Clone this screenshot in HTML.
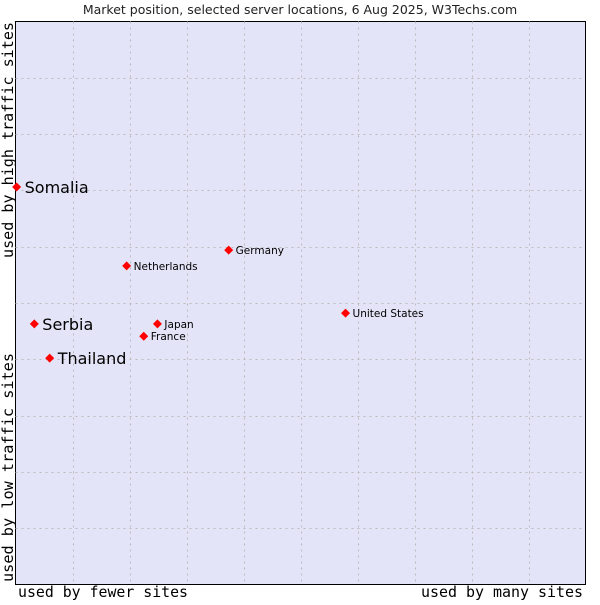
<!DOCTYPE html>
<html><head><meta charset="utf-8"><style>
body{margin:0;background:#fff;width:600px;height:600px;overflow:hidden}
svg text{font-family:"DejaVu Sans","Liberation Sans",sans-serif}
.mono{font-family:"DejaVu Sans Mono","Liberation Mono",monospace}
</style></head><body>
<svg id="chart" width="600" height="600" xmlns="http://www.w3.org/2000/svg">
<text x="300" y="14" font-size="12.5" text-anchor="middle" fill="#222">Market position, selected server locations, 6 Aug 2025, W3Techs.com</text>
<rect x="15.5" y="21.5" width="570" height="563" fill="#e4e4f8" stroke="#000"/>
<g id="grid"></g>
<g id="points"></g>
<text class="mono" x="18" y="597" font-size="15" textLength="170" lengthAdjust="spacingAndGlyphs" fill="#000">used by fewer sites</text>
<text class="mono" x="421" y="597" font-size="15" textLength="162" lengthAdjust="spacingAndGlyphs" fill="#000">used by many sites</text>
<text class="mono" transform="translate(13,258) rotate(-90)" font-size="15.5" textLength="236" lengthAdjust="spacingAndGlyphs" fill="#000">used by high traffic sites</text>
<text class="mono" transform="translate(13,582) rotate(-90)" font-size="15.5" textLength="229" lengthAdjust="spacingAndGlyphs" fill="#000">used by low traffic sites</text>
</svg>
<script>
const names = ["Somalia","Serbia","Thailand","Netherlands","Germany","Japan","France","United States"];
const xValues = [0.2,3.3,6.0,19.5,37.4,24.9,22.5,57.9];
const yValues = [70.6,46.3,40.2,56.6,59.4,46.3,44.1,48.2];
const highlighted = [true,true,true,false,false,false,false,false];
const NS="http://www.w3.org/2000/svg";
const L=15.5,R=585.5,T=21.5,B=584.5;
const xs=v=>L+(v/100)*(R-L);
const ys=v=>B-(v/100)*(B-T);
const grid=document.getElementById('grid');
for(let i=1;i<10;i++){
  const vx=document.createElementNS(NS,'line');
  
  
  const gx=Math.round(xs(i*10))+0.5;
  vx.setAttribute('x1',gx);vx.setAttribute('x2',gx);vx.setAttribute('y1',T);vx.setAttribute('y2',B);
  vx.setAttribute('stroke','#bbb');vx.setAttribute('stroke-dasharray','2,4');
  grid.appendChild(vx);
  const hz=document.createElementNS(NS,'line');
  
  
  const gy=Math.round(ys(i*10))+0.5;
  hz.setAttribute('y1',gy);hz.setAttribute('y2',gy);hz.setAttribute('x1',L);hz.setAttribute('x2',R);
  hz.setAttribute('stroke','#bbb');hz.setAttribute('stroke-dasharray','2,4');
  grid.appendChild(hz);
}
const pts=document.getElementById('points');
names.forEach((n,i)=>{
  const x=xs(xValues[i]),y=ys(yValues[i]);
  const d=document.createElementNS(NS,'polygon');
  
  
  d.setAttribute('points',`${x},${y-4.5} ${x+4.5},${y} ${x},${y+4.5} ${x-4.5},${y}`);
  d.setAttribute('fill','#f00');
  pts.appendChild(d);
  const t=document.createElementNS(NS,'text');
  
  
  const big=highlighted[i];
  t.setAttribute('x',x+(big?8:7));
  t.setAttribute('y',y+(big?6:4));
  t.setAttribute('font-size',big?16:10.5);
  t.setAttribute('fill','#000');
  t.textContent=n;
  pts.appendChild(t);
});
</script>
</body></html>
